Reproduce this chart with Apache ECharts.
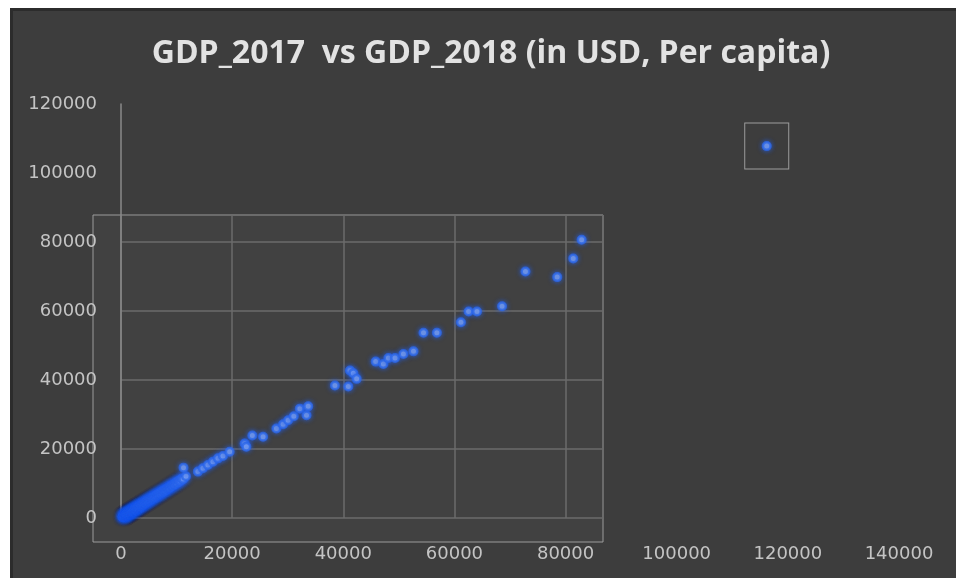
<!DOCTYPE html>
<html>
<head>
<meta charset="utf-8">
<script src="https://cdn.jsdelivr.net/npm/echarts@6/dist/echarts.min.js"></script>
<style>
html,body{margin:0;padding:0;background:#ffffff;}
#chart{width:956px;height:578px;}
</style>
</head>
<body>
<div id="chart"></div>
<script>
// GDP per capita (USD): [GDP_2017, GDP_2018]
var titleText = 'GDP_2017  vs GDP_2018 (in USD, Per capita)';
var xTicks = [0, 20000, 40000, 60000, 80000, 100000, 120000, 140000];
var yTicks = [0, 20000, 40000, 60000, 80000, 100000, 120000];
var lowIncomePoints = [
  [290,310],[410,450],[480,470],[520,560],[610,640],[700,690],[760,800],[820,870],[900,950],[980,1010],
  [1050,1120],[1130,1170],[1210,1260],[1300,1310],[1380,1450],[1450,1500],[1530,1580],[1620,1640],[1700,1780],[1790,1850],
  [1880,1900],[1960,2040],[2050,2100],[2130,2220],[2220,2260],[2310,2380],[2400,2450],[2480,2580],[2570,2620],[2660,2760],
  [2750,2800],[2850,2920],[2940,3050],[3050,3100],[3150,3280],[3250,3300],[3360,3420],[3450,3570],[3560,3610],[3680,3790],
  [3790,3850],[3900,4050],[4010,4080],[4130,4260],[4250,4300],[4380,4520],[4500,4560],[4620,4800],[4750,4820],[4880,5050],
  [5010,5100],[5150,5350],[5280,5330],[5420,5600],[5560,5650],[5700,5900],[5850,5920],[6000,6250],[6150,6200],[6300,6550],
  [6460,6500],[6620,6850],[6780,6900],[6950,7200],[7100,7150],[7280,7550],[7450,7500],[7620,7900],[7800,7850],[7980,8250],
  [8150,8200],[8350,8600],[8530,8650],[8720,9000],[8900,8950],[9100,9400],[9300,9350],[9500,9800],[9700,9800],[9900,10300],
  [10150,10200],[10400,10800],[10650,10700],[10900,11400],[11200,11300],[11700,12100],[11250,14600]
];
var midIncomePoints = [
  [13835,13445],[14737,14406],[15639,15366],[16541,16327],[17444,17287],[18346,17959],[19549,19208],
  [22256,21609],[22556,20648],[23639,23914],[25564,23529],[27970,25930],[29173,27179],[30075,28331],
  [31098,29484],[32180,31693],[33383,29772],[33684,32365]
];
var highIncomePoints = [
  [38496,38415],[40902,38127],[41203,42737],[41805,41969],[42406,40336],[45835,45330],[47218,44658],
  [48120,46387],[49323,46387],[50827,47539],[52632,48307],[54436,53685],[56842,53685],[61173,56759],
  [62556,59832],[64060,59832],[68571,61369],[72782,71453],[78496,69820],[81383,75198],[82887,80672]
];
var highlightedPoint = [[116200,107800]];

var allPoints = lowIncomePoints.concat(midIncomePoints, highIncomePoints, highlightedPoint);

var chart = echarts.init(document.getElementById('chart'), null, {renderer:'canvas'});
var pointStyle = {
  color: '#aac3f2',
  borderColor: '#2d68e8',
  borderWidth: 2.5,
  shadowBlur: 5,
  shadowColor: 'rgba(35,95,240,0.9)'
};
var plainNumber = function (v) { return String(v); };
var option = {
  backgroundColor: '#3d3d3d',
  animation: false,
  title: {
    text: titleText,
    left: 486,
    top: 33,
    textAlign: 'center',
    textStyle: {color:'#e2e2e2', fontSize:32, fontWeight:'bold', fontFamily:'Open Sans'}
  },
  graphic: [
    {type:'rect', shape:{x:0,y:0,width:956,height:8}, style:{fill:'#ffffff'}, z:100},
    {type:'rect', shape:{x:0,y:0,width:10,height:578}, style:{fill:'#ffffff'}, z:100},
    {type:'rect', shape:{x:11.5,y:9.5,width:950,height:580}, style:{fill:null, stroke:'#2c2c2c', lineWidth:3}, z:99}
  ],
  grid: [
    {left:121, right:57, top:104, bottom:60, show:false},
    {left:93, top:215, width:510, height:327, show:true, backgroundColor:'#414141', borderColor:'#9c9c9c', borderWidth:1, z:-1},
    {left:121, top:215, width:482, height:303, show:false}
  ],
  xAxis: [
    {gridIndex:0, type:'value', min:xTicks[0], max:xTicks[xTicks.length-1], interval:xTicks[1]-xTicks[0],
      axisLine:{show:false}, axisTick:{show:false}, splitLine:{show:false},
      axisLabel:{color:'#c4c4c4', fontSize:18, fontFamily:'DejaVu Sans', margin:27, formatter: plainNumber}},
    {gridIndex:1, type:'value', show:false},
    {gridIndex:2, type:'value', min:0, max:86700, interval:20000,
      axisLine:{show:false}, axisTick:{show:false}, axisLabel:{show:false},
      splitLine:{show:true, lineStyle:{color:'#6b6b6b', width:1.5}}}
  ],
  yAxis: [
    {gridIndex:0, type:'value', min:yTicks[0], max:yTicks[yTicks.length-1], interval:yTicks[1]-yTicks[0],
      axisLine:{show:true, lineStyle:{color:'#8a8a8a', width:1.5}}, axisTick:{show:false}, splitLine:{show:false},
      axisLabel:{color:'#c4c4c4', fontSize:18, fontFamily:'DejaVu Sans', margin:24, formatter: plainNumber}},
    {gridIndex:1, type:'value', show:false},
    {gridIndex:2, type:'value', min:0, max:87800, interval:20000,
      axisLine:{show:false}, axisTick:{show:false}, axisLabel:{show:false},
      splitLine:{show:true, lineStyle:{color:'#6b6b6b', width:1.5}}}
  ],
  series: [
    {type:'scatter', xAxisIndex:0, yAxisIndex:0, data: highlightedPoint, symbol:'rect', symbolSize:[44,46],
      itemStyle:{color:'rgba(0,0,0,0)', borderColor:'#b5b5b5', borderWidth:1}, silent:true, z:1},
    {type:'scatter', xAxisIndex:0, yAxisIndex:0, data: allPoints, symbolSize:7.5, itemStyle: pointStyle, z:3}
  ]
};
chart.setOption(option);
</script>
</body>
</html>
